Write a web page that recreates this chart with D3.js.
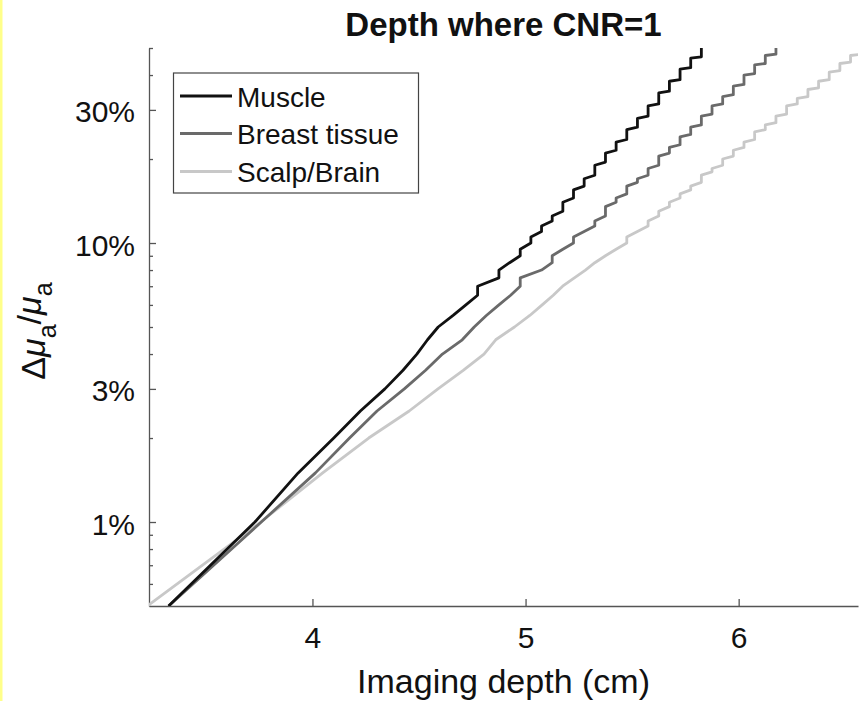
<!DOCTYPE html>
<html>
<head>
<meta charset="utf-8">
<script src="https://cdn.jsdelivr.net/npm/d3@7"></script>
<style>
  html, body { margin: 0; padding: 0; background: #fff; }
  svg { display: block; font-family: "Liberation Sans", Arial, sans-serif; }
</style>
</head>
<body>
<div id="chart"></div>
<script>
// depth (cm), delta mu_a / mu_a (%)
const muscle = [
  [3.325,0.5],[3.73,1.0],[3.933,1.5],[4.1,2.0],[4.225,2.5],[4.34,3.0],[4.425,3.5],[4.49,4.0],
  [4.54,4.5],[4.59,5.0],[4.66,5.5],[4.72,6.0],[4.775,6.5],[4.775,7.0],[4.875,7.5],[4.875,8.0],
  [4.925,8.5],[4.975,9.0],[4.975,9.5],[5.025,10.0],[5.025,10.5],[5.075,11.0],[5.075,11.5],[5.125,12.0],
  [5.125,12.5],[5.175,13.0],[5.175,14.0],[5.225,14.5],[5.225,15.5],[5.275,16.0],[5.275,17.0],[5.325,17.5],
  [5.325,19.0],[5.375,19.5],[5.375,21.0],[5.425,21.5],[5.425,23.0],[5.475,23.5],[5.475,25.5],[5.525,26.0],
  [5.525,28.0],[5.575,28.5],[5.575,31.0],[5.625,31.5],[5.625,34.5],[5.675,35.0],[5.675,38.0],[5.725,38.5],
  [5.725,42.0],[5.775,42.5],[5.775,46.0],[5.825,46.5],[5.825,50.0]
];
const breast = [
  [3.325,0.5],[3.76,1.0],[4.014,1.5],[4.174,2.0],[4.303,2.5],[4.431,3.0],[4.531,3.5],[4.61,4.0],
  [4.703,4.5],[4.759,5.0],[4.816,5.5],[4.875,6.0],[4.93,6.5],[4.975,7.0],[4.975,7.5],[5.075,8.0],
  [5.125,8.5],[5.125,9.0],[5.175,9.5],[5.225,10.0],[5.225,10.5],[5.275,11.0],[5.325,11.5],[5.325,12.0],
  [5.375,12.5],[5.375,13.5],[5.425,14.0],[5.425,14.5],[5.475,15.0],[5.475,16.0],[5.525,16.5],[5.525,17.0],
  [5.575,17.5],[5.575,18.5],[5.625,19.0],[5.625,20.5],[5.675,21.0],[5.675,22.0],[5.725,22.5],[5.725,24.0],
  [5.775,24.5],[5.775,26.0],[5.825,26.5],[5.825,28.5],[5.875,29.0],[5.875,31.0],[5.925,31.5],[5.925,33.5],
  [5.975,34.0],[5.975,36.5],[6.025,37.0],[6.025,40.0],[6.075,40.5],[6.075,43.5],[6.125,44.0],[6.125,47.0],
  [6.175,47.5],[6.175,50.0]
];
const scalp = [
  [3.225,0.5],[3.757,1.0],[4.048,1.5],[4.264,2.0],[4.454,2.5],[4.589,3.0],[4.709,3.5],[4.805,4.0],
  [4.86,4.5],[4.948,5.0],[5.02,5.5],[5.078,6.0],[5.13,6.5],[5.174,7.0],[5.229,7.5],[5.281,8.0],
  [5.325,8.5],[5.375,9.0],[5.425,9.5],[5.475,10.0],[5.475,10.5],[5.525,11.0],[5.575,11.5],[5.575,12.0],
  [5.625,12.5],[5.625,13.0],[5.675,13.5],[5.675,14.0],[5.725,14.5],[5.725,15.0],[5.775,15.5],[5.775,16.0],
  [5.825,16.5],[5.825,17.5],[5.875,18.0],[5.875,18.5],[5.925,19.0],[5.925,20.0],[5.975,20.5],[5.975,21.5],
  [6.025,22.0],[6.025,23.0],[6.075,23.5],[6.075,25.0],[6.125,25.5],[6.125,26.5],[6.175,27.0],[6.175,28.5],
  [6.225,29.0],[6.225,31.0],[6.275,31.5],[6.275,33.0],[6.325,33.5],[6.325,35.5],[6.375,36.0],[6.375,38.0],
  [6.425,38.5],[6.425,41.0],[6.475,41.5],[6.475,44.0],[6.525,44.5],[6.525,47.0],[6.575,47.5],[6.575,50.0]
];

const seriesNames = ["Muscle", "Breast tissue", "Scalp/Brain"];
const seriesColors = ["#111111", "#6a6a6a", "#c8c8c8"];
const xTicks = [4, 5, 6];
const yMajorTicks = [1, 3, 10, 30];
const yMinorTicks = [0.6, 0.7, 0.8, 0.9, 2, 4, 5, 6, 7, 8, 9, 20, 40, 50];
const xDomain = [3.233, 6.56];
const yDomain = [0.5, 50];

const width = 859, height = 701;
const plot = { left: 149, right: 858, top: 48, bottom: 606 };

const svg = d3.select("#chart").append("svg")
  .attr("width", width)
  .attr("height", height);

svg.append("rect").attr("width", width).attr("height", height).attr("fill", "#fff");
// yellow strip on the left edge
svg.append("rect").attr("x", 0).attr("y", 0).attr("width", 2.5).attr("height", height).attr("fill", "#ffff8a");

const x = d3.scaleLinear().domain(xDomain).range([plot.left, plot.right]);
const y = d3.scaleLog().domain(yDomain).range([plot.bottom, plot.top]);

svg.append("defs").append("clipPath").attr("id", "clip")
  .append("rect")
  .attr("x", plot.left).attr("y", plot.top - 2)
  .attr("width", plot.right - plot.left).attr("height", plot.bottom - plot.top + 2);

// axes
const axisColor = "#555";
const yMinor = svg.append("g")
  .attr("transform", `translate(${plot.left},0)`)
  .call(d3.axisLeft(y).tickValues(yMinorTicks).tickSizeInner(-4).tickSizeOuter(0).tickFormat(""));
yMinor.select(".domain").remove();

const yAxis = svg.append("g")
  .attr("transform", `translate(${plot.left},0)`)
  .call(d3.axisLeft(y).tickValues(yMajorTicks).tickSizeInner(-7).tickSizeOuter(0)
    .tickPadding(14).tickFormat(d => d + "%"));

const xAxis = svg.append("g")
  .attr("transform", `translate(0,${plot.bottom})`)
  .call(d3.axisBottom(x).tickValues(xTicks).tickSizeInner(-7).tickSizeOuter(0)
    .tickPadding(21).tickFormat(d3.format("d")));

svg.selectAll(".domain").attr("stroke", axisColor).attr("stroke-width", 1.3);
svg.selectAll(".tick line").attr("stroke", axisColor).attr("stroke-width", 1.3);
svg.selectAll(".tick text")
  .attr("fill", "#111")
  .style("font-size", "30px")
  .style("font-family", "'Liberation Sans', Arial, sans-serif");
yAxis.selectAll(".tick text").attr("dy", "0.4em");

// lines
const line = d3.line().x(d => x(d[0])).y(d => y(d[1]));
const allSeries = [muscle, breast, scalp];
const lines = svg.append("g").attr("clip-path", "url(#clip)");
allSeries.slice().reverse().forEach((s, i) => {
  const idx = allSeries.length - 1 - i;
  lines.append("path")
    .datum(s)
    .attr("fill", "none")
    .attr("stroke", seriesColors[idx])
    .attr("stroke-width", 2.8)
    .attr("stroke-linejoin", "round")
    .attr("d", line);
});

// title
svg.append("text")
  .attr("x", (plot.left + plot.right) / 2)
  .attr("y", 36)
  .attr("text-anchor", "middle")
  .style("font-size", "33px")
  .style("font-weight", "bold")
  .attr("fill", "#111")
  .text("Depth where CNR=1");

// x label
svg.append("text")
  .attr("x", (plot.left + plot.right) / 2)
  .attr("y", 693)
  .attr("text-anchor", "middle")
  .style("font-size", "34px")
  .attr("fill", "#111")
  .text("Imaging depth (cm)");

// y label: delta mu_a / mu_a
const yl = svg.append("text")
  .attr("transform", "translate(45,331) rotate(-90)")
  .attr("text-anchor", "middle")
  .style("font-size", "34px")
  .attr("fill", "#111");
yl.append("tspan").text("\u0394");
yl.append("tspan").style("font-style", "italic").text("\u03bc");
yl.append("tspan").attr("dy", "0.45em").style("font-size", "25px").text("a");
yl.append("tspan").attr("dy", "-0.45em").text("/");
yl.append("tspan").style("font-style", "italic").text("\u03bc");
yl.append("tspan").attr("dy", "0.45em").style("font-size", "25px").text("a");

// legend
const legend = svg.append("g");
legend.append("rect")
  .attr("x", 173.5).attr("y", 73)
  .attr("width", 245).attr("height", 120)
  .attr("fill", "#fff")
  .attr("stroke", "#444")
  .attr("stroke-width", 1.2);
const rowY = [96, 133.5, 171.5];
seriesNames.forEach((name, i) => {
  legend.append("line")
    .attr("x1", 180).attr("x2", 232)
    .attr("y1", rowY[i]).attr("y2", rowY[i])
    .attr("stroke", seriesColors[i])
    .attr("stroke-width", 2.8);
  legend.append("text")
    .attr("x", 237).attr("y", rowY[i])
    .attr("dy", "0.38em")
    .style("font-size", "28px")
    .attr("fill", "#111")
    .text(name);
});
</script>
</body>
</html>
